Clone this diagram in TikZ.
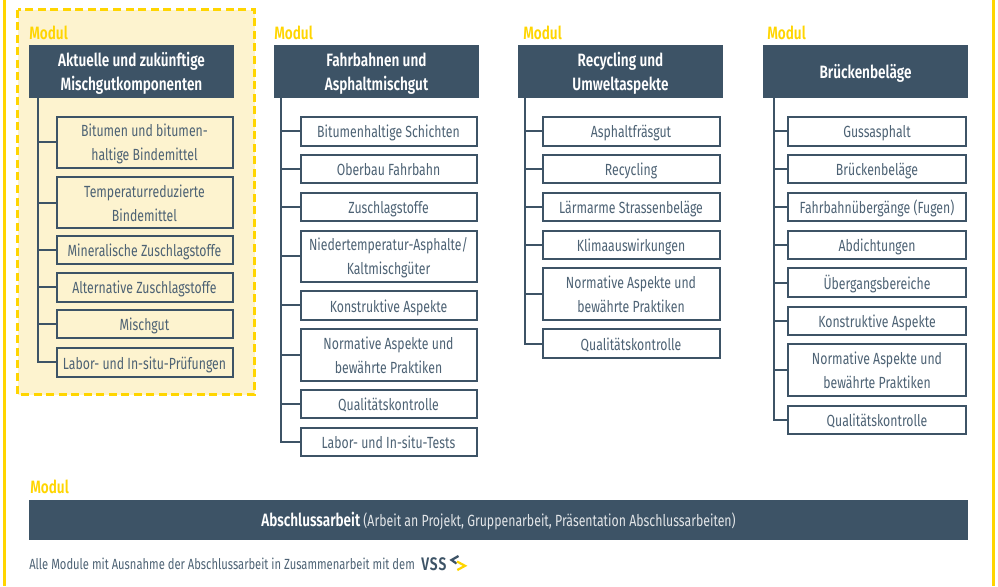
\documentclass[tikz,border=0pt]{standalone}
\usepackage{fontspec}
\setmainfont[FakeStretch=0.76,BoldFont={Fira Sans SemiBold}]{Fira Sans}
\definecolor{navy}{HTML}{3D5366}
\definecolor{gold}{HTML}{FFD500}
\definecolor{cream}{HTML}{FDF3CF}
\definecolor{ink}{HTML}{4D6274}
\tikzset{
  x=0.75pt,y=-0.75pt,
  itembox/.style={draw=navy,line width=1.5pt,text=ink,align=center,inner sep=0pt,font=\fontsize{12.1}{18}\selectfont},
  headbox/.style={fill=navy,text=white,align=center,inner sep=0pt,font=\fontsize{13.4}{18.6}\selectfont\bfseries},
  barbox/.style={fill=navy,text=white,align=center,inner sep=0pt,font=\fontsize{12.15}{18.6}\selectfont},
  modlabel/.style={text=gold,anchor=west,inner sep=0pt,font=\fontsize{13.4}{14}\selectfont\bfseries},
  conn/.style={draw=navy,line width=1.5pt},
}
% box: name, x1, y1, x2, y2, style, text
\newcommand{\bx}[7]{\node[#6,minimum width={(#4-#2)*0.75pt},minimum height={(#5-#3)*0.75pt}] (#1) at ({(#2+#4)/2},{(#3+#5)/2}) {\raisebox{-1.5pt}[\height][\depth]{\begin{tabular}{@{}c@{}}#7\end{tabular}}};}
\begin{document}
\begin{tikzpicture}
\useasboundingbox (0,0) rectangle (998,586);
\fill[gold] (3.3,0) rectangle (6,586);
\fill[gold] (992,0) rectangle (995,586);
\draw[gold,fill=cream,line width=1.6pt,dash pattern=on 6pt off 3.4pt] (17.5,9.5) rectangle (254.5,394.5);

\node[modlabel] (m1) at (29,33) {Modul};
\node[modlabel] (m2) at (274,33) {Modul};
\node[modlabel] (m3) at (523,33) {Modul};
\node[modlabel] (m4) at (767,33) {Modul};
\node[modlabel] (m5) at (30,487) {Modul};

\bx{h1}{29}{45}{234}{98}{headbox}{Aktuelle und zukünftige\\Mischgutkomponenten}
\bx{h2}{274}{45}{479}{98}{headbox}{Fahrbahnen und\\Asphaltmischgut}
\bx{h3}{518}{45}{723}{98}{headbox}{Recycling und\\Umweltaspekte}
\bx{h4}{763}{45}{968}{98}{headbox}{Brückenbeläge}

\bx{a1}{56.5}{116.5}{232.5}{167.5}{itembox}{Bitumen und bitumen-\\haltige Bindemittel}
\bx{a2}{56.5}{177}{232.5}{228}{itembox}{Temperaturreduzierte\\Bindemittel}
\bx{a3}{56.5}{235.5}{232.5}{263.5}{itembox}{Mineralische Zuschlagstoffe}
\bx{a4}{56.5}{272.5}{232.5}{301.5}{itembox}{Alternative Zuschlagstoffe}
\bx{a5}{56.5}{309.5}{232.5}{338}{itembox}{Mischgut}
\bx{a6}{56.5}{348}{232.5}{376.5}{itembox}{Labor- und In-situ-Prüfungen}

\bx{b1}{300.5}{116.5}{476.5}{145.5}{itembox}{Bitumenhaltige Schichten}
\bx{b2}{300.5}{154.5}{476.5}{183}{itembox}{Oberbau Fahrbahn}
\bx{b3}{300.5}{192.5}{476.5}{221}{itembox}{Zuschlagstoffe}
\bx{b4}{300.5}{230.5}{476.5}{281.5}{itembox}{Niedertemperatur-Asphalte/\\Kaltmischgüter}
\bx{b5}{300.5}{291}{476.5}{319.5}{itembox}{Konstruktive Aspekte}
\bx{b6}{300.5}{329}{476.5}{380.5}{itembox}{Normative Aspekte und\\bewährte Praktiken}
\bx{b7}{300.5}{390}{476.5}{418}{itembox}{Qualitätskontrolle}
\bx{b8}{300.5}{428}{476.5}{456}{itembox}{Labor- und In-situ-Tests}

\bx{c1}{542.5}{116.5}{719.5}{145.5}{itembox}{Asphaltfräsgut}
\bx{c2}{542.5}{154.5}{719.5}{183}{itembox}{Recycling}
\bx{c3}{542.5}{192.5}{719.5}{221}{itembox}{Lärmarme Strassenbeläge}
\bx{c4}{542.5}{231}{719.5}{259}{itembox}{Klimaauswirkungen}
\bx{c5}{542.5}{268}{719.5}{319.5}{itembox}{Normative Aspekte und\\bewährte Praktiken}
\bx{c6}{542.5}{329}{719.5}{358}{itembox}{Qualitätskontrolle}

\bx{d1}{788}{116.5}{966}{145.5}{itembox}{Gussasphalt}
\bx{d2}{788}{154.5}{966}{183}{itembox}{Brückenbeläge}
\bx{d3}{788}{192.5}{966}{221}{itembox}{Fahrbahnübergänge (Fugen)}
\bx{d4}{788}{231}{966}{259}{itembox}{Abdichtungen}
\bx{d5}{788}{268}{966}{297}{itembox}{Übergangsbereiche}
\bx{d6}{788}{306.5}{966}{335}{itembox}{Konstruktive Aspekte}
\bx{d7}{788}{344}{966}{396}{itembox}{Normative Aspekte und\\bewährte Praktiken}
\bx{d8}{788}{405.5}{966}{434}{itembox}{Qualitätskontrolle}

\coordinate (ta) at (38,98);
\coordinate (tb) at (281,98);
\coordinate (tc) at (525,98);
\coordinate (td) at (774,98);
\draw[conn] (ta) -- (ta |- a6.west) -- (a6.west);
\foreach \n in {a1,a2,a3,a4,a5} \draw[conn] (\n.west) -- (\n.west -| ta);
\draw[conn] (tb) -- (tb |- b8.west) -- (b8.west);
\foreach \n in {b1,b2,b3,b4,b5,b6,b7} \draw[conn] (\n.west) -- (\n.west -| tb);
\draw[conn] (tc) -- (tc |- c6.west) -- (c6.west);
\foreach \n in {c1,c2,c3,c4,c5} \draw[conn] (\n.west) -- (\n.west -| tc);
\draw[conn] (td) -- (td |- d8.west) -- (d8.west);
\foreach \n in {d1,d2,d3,d4,d5,d6,d7} \draw[conn] (\n.west) -- (\n.west -| td);

\bx{bar}{29}{500}{968}{540}{barbox}{{\fontsize{13.4}{18}\selectfont\bfseries Abschlussarbeit}\ \textcolor{white!85!navy}{(Arbeit an Projekt, Gruppenarbeit, Präsentation Abschlussarbeiten)}}
\node[anchor=west,inner sep=0pt,text=ink,font=\fontsize{11.05}{13}\selectfont] (note) at (29,564) {Alle Module mit Ausnahme der Abschlussarbeit in Zusammenarbeit mit dem};
\node[anchor=west,inner sep=0pt,text=navy,font=\fontsize{13.6}{15}\selectfont\bfseries\addfontfeature{LetterSpace=6}] (vss) at (421,564) {VSS};
\draw[navy,line width=1.7pt] (458.5,556) -- (451.5,560) -- (456.5,563.5);
\draw[gold,line width=1.7pt] (457,561.5) -- (465,565.8) -- (457.3,570);
\end{tikzpicture}
\end{document}
